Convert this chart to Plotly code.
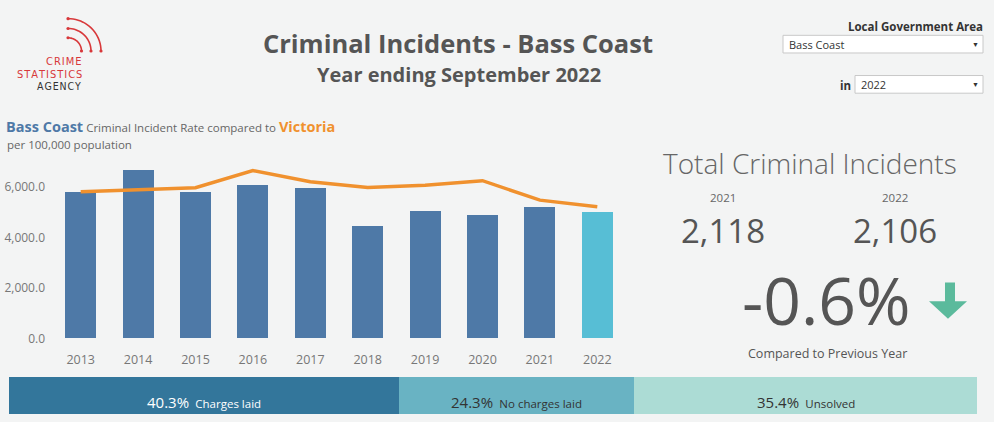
import math
import plotly.graph_objects as go

W, H = 994, 422

# ---------------- data ----------------
years = ["2013", "2014", "2015", "2016", "2017", "2018", "2019", "2020", "2021", "2022"]
bass_coast_rate = [5790, 6690, 5790, 6060, 5940, 4440, 5050, 4890, 5220, 5010]
victoria_rate = [5810, 5890, 5970, 6650, 6210, 5980, 6070, 6250, 5480, 5220]
y_ticks = [0, 2000, 4000, 6000]

total_years = ["2021", "2022"]
total_incidents = [2118, 2106]
change_pct = -0.6

outcome_labels = ["Charges laid", "No charges laid", "Unsolved"]
outcome_pct = [40.3, 24.3, 35.4]
outcome_colors = ["#33769b", "#69b3c3", "#acdcd5"]
outcome_text_colors = ["#ffffff", "#333333", "#333333"]

BG = "#f3f4f4"
BLUE = "#4e79a7"
CYAN = "#57bed5"
ORANGE = "#f0912e"
GREY = "#555555"
FONT = "Open Sans"


def px(x):
    return x / W


def py(y):
    return 1 - y / H


fig = go.Figure()

bar_colors = [BLUE] * (len(years) - 1) + [CYAN]
fig.add_trace(go.Bar(x=years, y=bass_coast_rate, marker_color=bar_colors,
                     marker_line_width=0, xaxis="x", yaxis="y",
                     showlegend=False, hoverinfo="x+y"))
fig.add_trace(go.Scatter(x=years, y=victoria_rate, mode="lines",
                         line=dict(color=ORANGE, width=3.5), xaxis="x", yaxis="y",
                         showlegend=False))

# bottom stacked outcome bar
for lab, pct, col in zip(outcome_labels, outcome_pct, outcome_colors):
    fig.add_trace(go.Bar(
        y=[0], x=[pct], orientation="h", width=[1.0], marker_color=col, marker_line_width=0,
        xaxis="x2", yaxis="y2", showlegend=False, hoverinfo="x",
    ))

fig.update_layout(
    width=W, height=H,
    margin=dict(l=0, r=0, t=0, b=0),
    paper_bgcolor=BG, plot_bgcolor=BG,
    barmode="stack", bargap=0.46,
    font=dict(family=FONT, color=GREY),
    xaxis=dict(domain=[px(52), px(626)], showgrid=False, zeroline=False, showline=False,
               tickfont=dict(size=12.5, color="#777777"), ticks="", fixedrange=True,
               ticklabelstandoff=12),
    yaxis=dict(domain=[py(345), py(152)], range=[0, 7500], tickvals=y_ticks,
               tickformat=",.1f", showgrid=False, zeroline=False, showline=False,
               tickfont=dict(size=12, color="#777777"), ticks="", fixedrange=True,
               ticklabelstandoff=6),
    xaxis2=dict(domain=[px(9), px(977)], range=[0, sum(outcome_pct)], visible=False,
                anchor="y2", fixedrange=True),
    yaxis2=dict(domain=[0, py(384)], range=[-0.5, 0.5], visible=False, anchor="x2",
                fixedrange=True),
)

ann = []


def txt(x, y, s, size, color=GREY, xanchor="center", bold=False, family=FONT, weight=None):
    f = dict(size=size, color=color, family=family)
    if weight is not None:
        f["weight"] = weight
    ann.append(dict(x=px(x), y=py(y), xref="paper", yref="paper", text=(f"<b>{s}</b>" if bold else s),
                    showarrow=False, xanchor=xanchor, yanchor="middle", font=f))


# outcome labels, centred on each stacked segment
cum = 0
for lab, pct, tcol in zip(outcome_labels, outcome_pct, outcome_text_colors):
    ann.append(dict(x=cum + pct / 2, y=py(410), xref="x2", yref="paper", showarrow=False,
                    xanchor="center", yanchor="middle",
                    text=f"<span style='font-size:15px'>{pct:.1f}%</span>  <span style='font-size:11.5px'>{lab}</span>",
                    font=dict(color=tcol, family=FONT)))
    cum += pct

# titles
txt(458, 44, "Criminal Incidents - Bass Coast", 25.5, "#555555", bold=True)
txt(459, 76, "Year ending September 2022", 20, "#555555", bold=True)

# chart subtitle
ann.append(dict(x=px(4), y=py(129), xref="paper", yref="paper", showarrow=False,
                xanchor="left", yanchor="middle",
                text=(f"<b><span style='color:{BLUE};font-size:14.5px'>Bass Coast</span></b>"
                      f"<span style='font-size:11.5px;color:#666'> Criminal Incident Rate compared to </span>"
                      f"<b><span style='color:{ORANGE};font-size:14.5px'>Victoria</span></b>"),
                font=dict(family=FONT)))
txt(5, 147, "per 100,000 population", 11.5, "#666666", xanchor="left")

# logo text
hs = "\u200a"
txt(83, 63, hs.join("CRIME"), 11, "#d8383a", xanchor="right", family="DejaVu Sans Condensed")
txt(84, 76, hs.join("STATISTICS"), 11, "#d8383a", xanchor="right", family="DejaVu Sans Condensed")
txt(83, 88, hs.join("AGENCY"), 10.5, "#333333", xanchor="right", family="DejaVu Sans Condensed")

# selectors
txt(985, 27, "Local Government Area", 11.5, "#333333", xanchor="right", bold=True)
txt(787, 45, "Bass Coast", 11, "#333333", xanchor="left")
txt(975, 45, "▼", 7, "#333333")
txt(853, 87, "in", 11.5, "#333333", xanchor="right", bold=True)
txt(859, 86, "2022", 11, "#333333", xanchor="left")
txt(975, 86, "▼", 7, "#333333")

# KPI panel
txt(810, 166, "Total Criminal Incidents", 28, "#666666", weight=300)
for xc, yr, val in zip([723, 895], total_years, total_incidents):
    txt(xc, 201, yr, 11.5, "#666666")
    txt(xc, 235, f"{val:,}", 33, "#555555")
txt(826, 305, f"{change_pct:.1f}%", 66, "#555555")
txt(827, 360, "Compared to Previous Year", 12.5, "#555555")

fig.update_layout(annotations=ann)

# shapes: selector boxes, arrow, logo arcs
shapes = []
for (x0, y0, x1, y1) in [(783, 36, 983, 54), (855, 77, 983, 95)]:
    shapes.append(dict(type="rect", xref="paper", yref="paper", x0=px(x0), x1=px(x1),
                       y0=py(y1), y1=py(y0), fillcolor="white",
                       line=dict(color="#c8c8c8", width=1), layer="below"))

arrow_pts = [(945, 288), (955, 288), (955, 307), (967, 307), (948, 325), (929, 307), (945, 307)]
path = "M " + " L ".join(f"{px(a):.5f},{py(b):.5f}" for a, b in arrow_pts) + " Z"
shapes.append(dict(type="path", xref="paper", yref="paper", path=path,
                   fillcolor="#5bba9c", line=dict(width=0)))

cx, cy = 68, 52
for r in [33, 23, 13.5]:
    pts = []
    for i in range(21):
        t = math.pi / 2 * i / 20
        pts.append((cx + r * math.sin(t), cy - r * math.cos(t)))
    p = "M " + " L ".join(f"{px(a):.5f},{py(b):.5f}" for a, b in pts)
    shapes.append(dict(type="path", xref="paper", yref="paper", path=p,
                       line=dict(color="#d8383a", width=1.6)))
    for (a, b) in [pts[0], pts[-1]]:
        shapes.append(dict(type="circle", xref="paper", yref="paper",
                           x0=px(a - 1.6), x1=px(a + 1.6), y0=py(b + 1.6), y1=py(b - 1.6),
                           fillcolor="#d8383a", line=dict(width=0)))

fig.update_layout(shapes=shapes)

fig.write_html("out.html")
